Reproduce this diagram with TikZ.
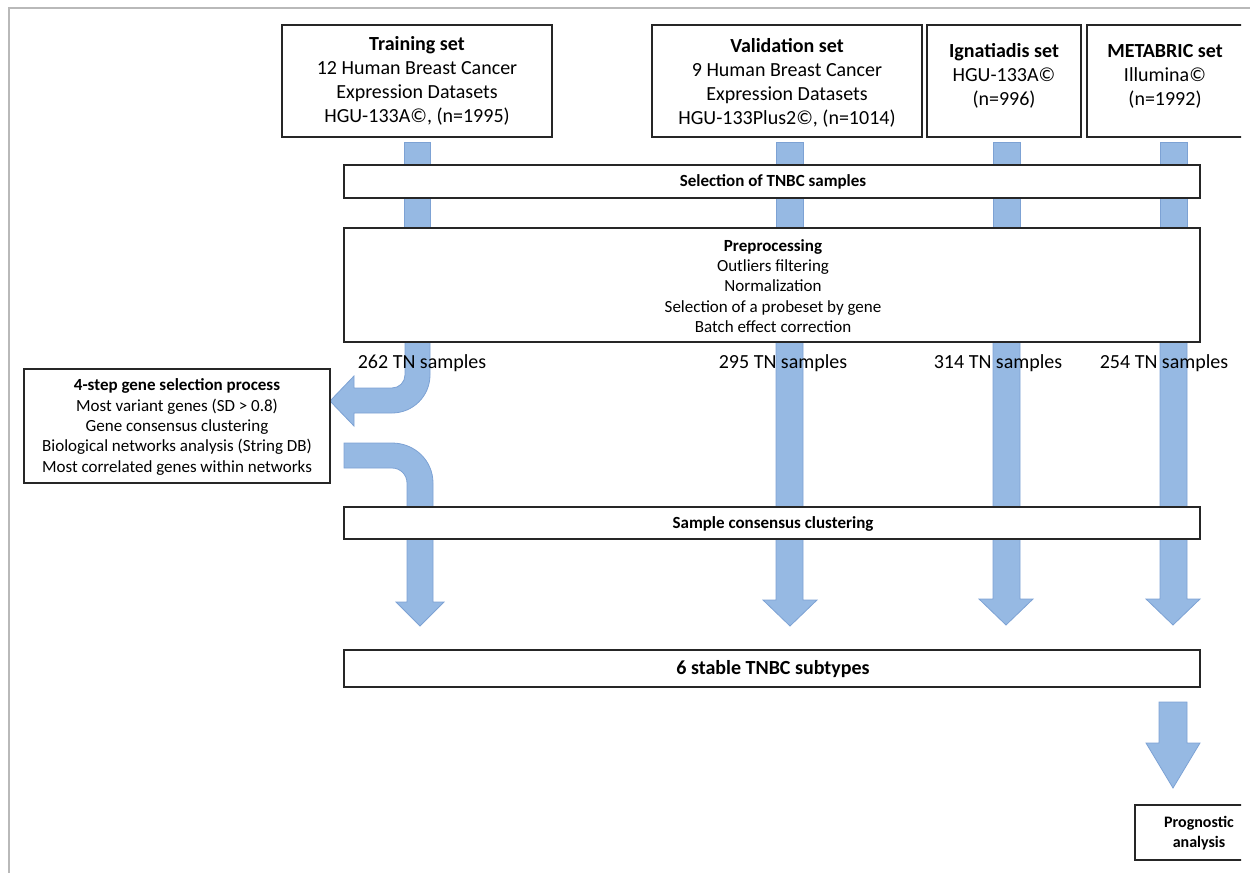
\documentclass[tikz,border=0pt]{standalone}
\usepackage{fontspec}
\setmainfont{Carlito}
\usetikzlibrary{fit}
\definecolor{arrowfill}{RGB}{150,185,227}
\definecolor{arrowedge}{RGB}{125,162,212}
\definecolor{framegray}{RGB}{185,185,185}
\begin{document}
\begin{tikzpicture}[x=1pt,y=-1pt,
  box/.style={draw=black!85,line width=1.6pt,fill=white,inner sep=0pt},
  blk/.style={fill=arrowfill,draw=arrowedge,line width=0.8pt},
  big/.style={font=\fontsize{20}{24}\selectfont,align=center,inner sep=0pt},
  small/.style={font=\fontsize{17}{20.3}\selectfont,align=center,inner sep=0pt},
  frameline/.style={draw=framegray,line width=1.5pt}]
\useasboundingbox (0,0) rectangle (1250,873);
% frame
\coordinate (fa) at (1250,8);
\coordinate (fb) at (9,8);
\coordinate (fc) at (9,873);
\draw[frameline] (fa) -- (fb) -- (fc);

% short bars
\draw[blk] (404,142) rectangle (430,232);
\draw[blk] (776,142) rectangle (803,232);
\draw[blk] (993,142) rectangle (1020,232);
\draw[blk] (1160,142) rectangle (1187,232);

% bent arrow 1 (to gene selection)
\draw[blk] (405,300) -- (405,375) .. controls (405,382.2) and (399.2,388) .. (392,388)
  -- (354,388) -- (354,376) -- (330,401) -- (354,426) -- (354,413) -- (392,413)
  .. controls (413,413) and (430,396) .. (430,375) -- (430,300) -- cycle;
% bent arrow 2 (from gene selection)
\draw[blk] (344,443) -- (392,443) .. controls (414.6,443) and (433,460.4) .. (433,483)
  -- (433,602) -- (444,602) -- (420,626) -- (396,602) -- (407,602) -- (407,483)
  .. controls (407,474.7) and (400.3,468) .. (392,468) -- (344,468) -- cycle;
% long arrows
\draw[blk] (776,300) -- (776,600) -- (763,600) -- (790,626) -- (817,600) -- (803,600) -- (803,300) -- cycle;
\draw[blk] (993,300) -- (993,599) -- (979,599) -- (1006,625) -- (1033,599) -- (1020,599) -- (1020,300) -- cycle;
\draw[blk] (1160,300) -- (1160,599) -- (1146,599) -- (1173,625) -- (1200,599) -- (1187,599) -- (1187,300) -- cycle;
% final arrow
\draw[blk] (1159,702) -- (1159,743) -- (1146,743) -- (1173,788) -- (1200,743) -- (1187,743) -- (1187,702) -- cycle;

% boxes
\begin{scope}
\clip (0,0) rectangle (1241,873);
\node[box,fit={(282,25)(552,137)}] (train) {};
\node[box,fit={(652,25)(922,137)}] (valid) {};
\node[box,fit={(927,25)(1081,137)}] (ign) {};
\node[box,fit={(1087,25)(1243,137)}] (meta) {};
\node[box,fit={(344,165)(1200,198)}] (sel) {};
\node[box,fit={(344,228)(1200,342)}] (prep) {};
\node[box,fit={(24,369)(330,483)}] (gene) {};
\node[box,fit={(344,507)(1200,539)}] (scc) {};
\node[box,fit={(344,650)(1200,687)}] (subt) {};
\node[box,fit={(1135,805)(1265,860)}] (prog) {};
\end{scope}

% texts
\node[big] (traintxt) at (417,81) {\textbf{Training set}\\12 Human Breast Cancer\\Expression Datasets\\HGU-133A©, (n=1995)};
\node[big] (validtxt) at (787,83) {\textbf{Validation set}\\9 Human Breast Cancer\\Expression Datasets\\HGU-133Plus2©, (n=1014)};
\node[big] (igntxt) at (1004,76) {\textbf{Ignatiadis set}\\HGU-133A©\\(n=996)};
\node[big] (metatxt) at (1165,76) {\textbf{METABRIC set}\\Illumina©\\(n=1992)};
\node[small,font=\fontsize{17}{20.3}\selectfont\bfseries] (seltxt) at (773,182) {Selection of TNBC samples};
\node[small] (preptxt) at (773,286) {\textbf{Preprocessing}\\Outliers filtering\\Normalization\\Selection of a probeset by gene\\Batch effect correction};
\node[small] (genetxt) at (177,427) {\textbf{4-step gene selection process}\\Most variant genes (SD > 0.8)\\Gene consensus clustering\\Biological networks analysis (String DB)\\Most correlated genes within networks};
\node[small,font=\fontsize{17}{20.3}\selectfont\bfseries] (scctxt) at (773,524) {Sample consensus clustering};
\node[big,font=\fontsize{20}{24}\selectfont\bfseries] (subttxt) at (773,669) {6 stable TNBC subtypes};
\node[small,font=\fontsize{16}{20}\selectfont\bfseries] (progtxt) at (1199,833) {Prognostic\\analysis};

\node[big] (tn1) at (422,363) {262 TN samples};
\node[big] (tn2) at (783,363) {295 TN samples};
\node[big] (tn3) at (998,363) {314 TN samples};
\node[big] (tn4) at (1164,363) {254 TN samples};
\end{tikzpicture}
\end{document}
